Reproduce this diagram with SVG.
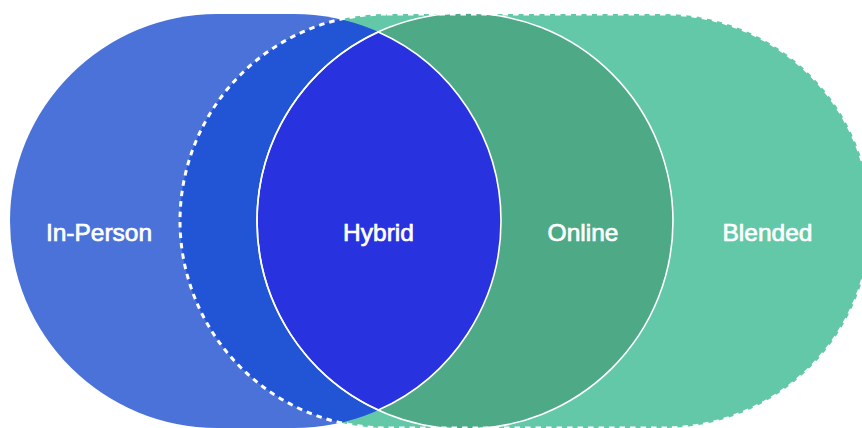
<svg xmlns="http://www.w3.org/2000/svg" width="862" height="428" viewBox="0 0 862 428">
  <style>
    .lbl { font-family: "Liberation Sans", Arial, sans-serif; font-size: 24.5px; fill: #ffffff; stroke: #ffffff; stroke-width: 0.7px; text-anchor: middle; }
    .dash { fill: none; stroke: #ffffff; stroke-width: 3; stroke-dasharray: 5.5 5; }
    .solid { fill: none; stroke: #ffffff; stroke-width: 1.6; }
  </style>
  <defs>
    <rect id="blendedShape" x="180" y="14" width="691" height="414" rx="207" ry="207"/>
    <rect id="inpersonShape" x="10" y="14" width="491" height="414" rx="207" ry="207"/>
    <clipPath id="clipBlended">
      <use href="#blendedShape"/>
    </clipPath>
  </defs>
  <rect x="0" y="0" width="862" height="428" fill="#ffffff"/>

  <g id="blended">
    <use href="#blendedShape" fill="#62c8a8"/>
  </g>

  <g id="in-person">
    <use href="#inpersonShape" fill="#4a72d8"/>
    <use href="#inpersonShape" fill="#2155d6" clip-path="url(#clipBlended)"/>
  </g>

  <g id="online">
    <circle cx="465" cy="221" r="208" fill="#4ea986"/>
  </g>

  <g id="hybrid">
    <path d="M378.29,31.94 A208,208 0 0,0 378.29,410.06 A207,207 0 0,0 378.29,31.94 Z" fill="#2832de" stroke="#ffffff" stroke-width="1.6"/>
  </g>

  <g id="connectors">
    <circle class="solid" cx="465" cy="221" r="208"/>
    <use href="#blendedShape" class="dash"/>
  </g>

  <g id="labels">
    <text class="lbl" x="99" y="241">In-Person</text>
    <text class="lbl" x="378.5" y="241">Hybrid</text>
    <text class="lbl" x="583" y="241">Online</text>
    <text class="lbl" x="767.5" y="241">Blended</text>
  </g>
</svg>
